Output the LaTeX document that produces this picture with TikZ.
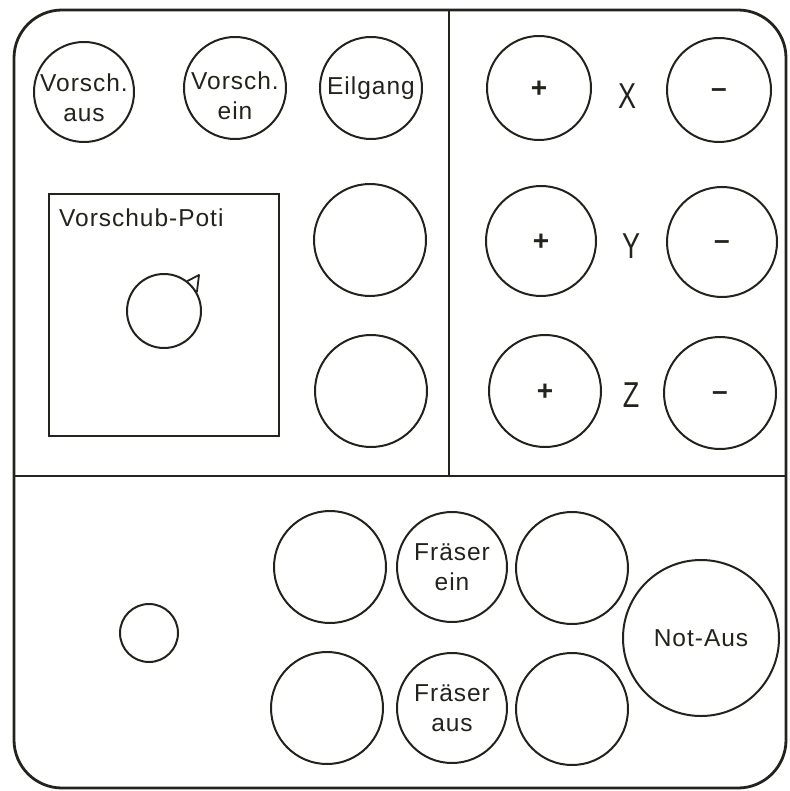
\documentclass[tikz,border=0pt]{standalone}
\usepackage{fontspec}
\setmainfont[LetterSpace=4]{Liberation Sans}
\definecolor{ink}{RGB}{35,35,30}
\newcommand\lblfont{\fontsize{24.5}{30}\selectfont}
\newcommand\axisfont{\fontsize{36}{40}\selectfont}
\newcommand\signfont{\fontsize{28}{30}\selectfont\bfseries\addfontfeatures{LetterSpace=0}}
\tikzset{
  frame/.style={draw=ink, line width=2.8pt},
  btn/.style={circle, draw=ink, line width=2pt, inner sep=0pt, align=center, font=\lblfont, text=ink},
  btnlbl/.style={inner sep=0pt, align=center, font=\lblfont, text=ink},
  axislbl/.style={font=\axisfont, text=ink, inner sep=0pt},
  sign/.style={font=\signfont, text=ink, inner sep=0pt, anchor=base},
}
\begin{document}
\begin{tikzpicture}[x=1pt, y=-1pt]
\useasboundingbox (0,0) rectangle (789,791);
% outer frame and dividers
\draw[frame, rounded corners=48pt] (14,10) rectangle (786,788);
\draw[frame] (449,10) -- (449,476);
\draw[frame] (14,476) -- (786,476);

% top-left buttons
\node[btn, minimum size=100pt] (vaus) at (84,92) {};
\node[btnlbl] (vauslbl) at (84,98) {Vorsch.\\aus};
\node[btn, minimum size=102pt] (vein) at (235,88) {};
\node[btnlbl] (veinlbl) at (235,96) {Vorsch.\\ein};
\node[btn, minimum size=102pt] (eil) at (371,88) {Eilgang};

% Vorschub-Poti
\node[draw=ink, line width=2pt, minimum width=230pt, minimum height=242pt, inner sep=0pt, anchor=north west] (poti) at (48,193) {};
\node[font=\lblfont, text=ink, anchor=base west, inner sep=0pt] (potilbl) at (59,227) {Vorschub-Poti};
\node[btn, minimum size=74pt] (knob) at (164,311) {};
\coordinate (tip) at (199,275);
\draw[draw=ink, line width=1.8pt, line join=round] (knob.52) -- (tip) -- (knob.30);

\node[btn, minimum size=112pt] (l1) at (370,240) {};
\node[btn, minimum size=112pt] (l2) at (371,391) {};

% axis buttons
\node[btn, minimum size=104pt] (xp) at (539,88) {};
\node[btn, minimum size=104pt] (xm) at (719,90) {};
\node[btn, minimum size=110pt] (yp) at (541,241) {};
\node[btn, minimum size=110pt] (ym) at (722,242) {};
\node[btn, minimum size=112pt] (zp) at (545,391) {};
\node[btn, minimum size=112pt] (zm) at (720,393) {};
\node[sign] (xps) at ([yshift=-9.7pt]xp.center) {+};
\node[sign] (xms) at ([yshift=-7.8pt]xm.center) {–};
\node[sign] (yps) at ([yshift=-9.7pt]yp.center) {+};
\node[sign] (yms) at ([yshift=-7.8pt]ym.center) {–};
\node[sign] (zps) at ([yshift=-9.7pt]zp.center) {+};
\node[sign] (zms) at ([yshift=-7.8pt]zm.center) {–};
\node[axislbl] (xl) at (627,96) {\scalebox{0.75}[1]{X}};
\node[axislbl] (yl) at (631,246) {\scalebox{0.75}[1]{Y}};
\node[axislbl] (zl) at (631,395) {\scalebox{0.75}[1]{Z}};

% bottom panel
\node[btn, minimum size=58pt] (lamp) at (149,633) {};
\node[btn, minimum size=112pt] (b1) at (330,567) {};
\node[btn, minimum size=112pt] (b2) at (327,708) {};
\node[btn, minimum size=110pt] (fein) at (452,567) {Fräser\\ein};
\node[btn, minimum size=110pt] (faus) at (452,708) {Fräser\\aus};
\node[btn, minimum size=112pt] (e1) at (572,568) {};
\node[btn, minimum size=112pt] (e2) at (572,709) {};
\node[btn, minimum size=156pt] (notaus) at (701,638) {Not-Aus};
\end{tikzpicture}
\end{document}
